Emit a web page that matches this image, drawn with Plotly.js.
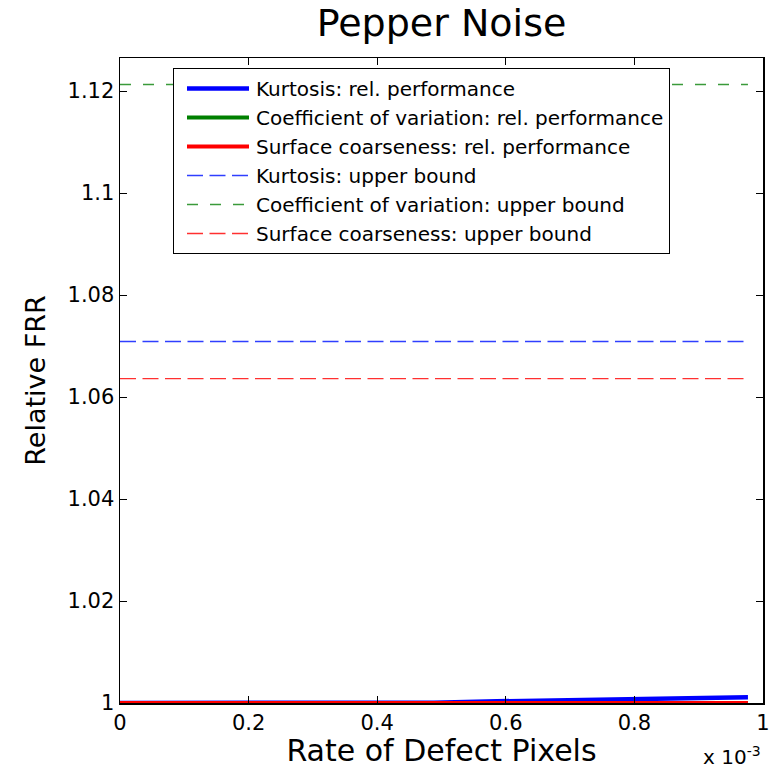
<!DOCTYPE html>
<html>
<head>
<meta charset="utf-8">
<script src="https://cdn.plot.ly/plotly-3.0.1.min.js"></script>
<style>html,body{margin:0;padding:0;background:#fff;}#chart{width:772px;height:768px;}</style>
</head>
<body>
<div id="chart"></div>
<script>
// Rate of defect pixels (absolute units; axis shows x 10^-3)
const defectRate = [0, 0.0000977, 0.0001953, 0.000293, 0.0003906, 0.0004883, 0.000586, 0.0006836, 0.0007813, 0.0008789, 0.0009766];
const kurtosisPerf = [1, 1, 1, 1, 1, 1.00006, 1.00033, 1.00057, 1.00078, 1.00096, 1.00112];
const coefVarPerf  = [1, 1, 1, 1, 1, 1, 1, 1, 1, 1, 1];
const coarsenessPerf = [1, 1, 1, 1, 1, 1, 1, 1, 1, 1, 1];
const boundRate = [0, 0.0009766];
const kurtosisBound = [1.0709, 1.0709];
const coefVarBound = [1.1213, 1.1213];
const coarsenessBound = [1.0636, 1.0636];
const xTickVals = [0, 0.0002, 0.0004, 0.0006, 0.0008, 0.001];
const xTickText = ['0', '0.2', '0.4', '0.6', '0.8', '1'];
const yTickVals = [1, 1.02, 1.04, 1.06, 1.08, 1.1, 1.12];
const yTickText = ['1', '1.02', '1.04', '1.06', '1.08', '1.1', '1.12'];

const FONT = 'DejaVu Sans, Arial, sans-serif';

const traces = [
  {x: defectRate, y: kurtosisPerf, mode: 'lines', name: 'Kurtosis: rel. performance', line: {color: '#0000ff', width: 4.5}},
  {x: defectRate, y: coefVarPerf, mode: 'lines', name: 'Coefficient of variation: rel. performance', line: {color: '#008000', width: 4}},
  {x: defectRate, y: coarsenessPerf, mode: 'lines', name: 'Surface coarseness: rel. performance', line: {color: '#ff0000', width: 4}},
  {x: boundRate, y: kurtosisBound, mode: 'lines', name: 'Kurtosis: upper bound', line: {color: '#2f3fff', width: 1.3, dash: '16px,6.5px'}},
  {x: boundRate, y: coefVarBound, mode: 'lines', name: 'Coefficient of variation: upper bound', line: {color: '#3a9a3a', width: 1.3, dash: '11px,12px'}},
  {x: boundRate, y: coarsenessBound, mode: 'lines', name: 'Surface coarseness: upper bound', line: {color: '#ff3030', width: 1.3, dash: '16px,6.5px'}}
];

const layout = {
  width: 772, height: 768,
  margin: {l: 120, r: 9, t: 58, b: 65},
  paper_bgcolor: '#ffffff', plot_bgcolor: '#ffffff',
  font: {family: FONT, color: '#000000'},
  title: {text: 'Pepper Noise', font: {family: FONT, size: 38, color: '#000'}, xref: 'paper', x: 0.5, xanchor: 'center', yref: 'container', y: 1 - 23/768, yanchor: 'middle'},
  xaxis: {
    range: [0, 0.001], tickvals: xTickVals, ticktext: xTickText,
    ticks: 'inside', ticklen: 7, tickcolor: '#000', tickwidth: 1,
    showline: true, linecolor: '#000', linewidth: 1.5, mirror: 'ticks',
    showgrid: false, zeroline: false,
    tickfont: {family: FONT, size: 21, color: '#000'},
    title: {text: 'Rate of Defect Pixels', font: {family: FONT, size: 30, color: '#000'}, standoff: 2}
  },
  yaxis: {
    range: [1, 1.1265], tickvals: yTickVals, ticktext: yTickText,
    ticks: 'inside', ticklen: 7, tickcolor: '#000', tickwidth: 1,
    showline: true, linecolor: '#000', linewidth: 1.5, mirror: 'ticks',
    showgrid: false, zeroline: false,
    tickfont: {family: FONT, size: 21, color: '#000'},
    title: {text: 'Relative FRR', font: {family: FONT, size: 27, color: '#000'}, standoff: 14}
  },
  showlegend: true,
  legend: {
    x: (173 - 120) / 643, y: (703 - 68) / 645, xanchor: 'left', yanchor: 'top',
    bgcolor: '#ffffff', bordercolor: '#000', borderwidth: 1,
    font: {family: FONT, size: 20, color: '#000'},
    itemwidth: 72, tracegroupgap: 0
  },
  annotations: [
    {xref: 'paper', yref: 'paper', x: 1.0, y: -0.082, xanchor: 'right', yanchor: 'middle', showarrow: false,
     text: 'x 10<sup>-3</sup>', font: {family: FONT, size: 20, color: '#000'}}
  ]
};

Plotly.newPlot('chart', traces, layout, {displayModeBar: false, staticPlot: true}).then(function () {
  document.querySelectorAll('.legend .legendlines path').forEach(function (p) {
    p.setAttribute('d', 'M13,0h62');
  });
});
</script>
</body>
</html>
